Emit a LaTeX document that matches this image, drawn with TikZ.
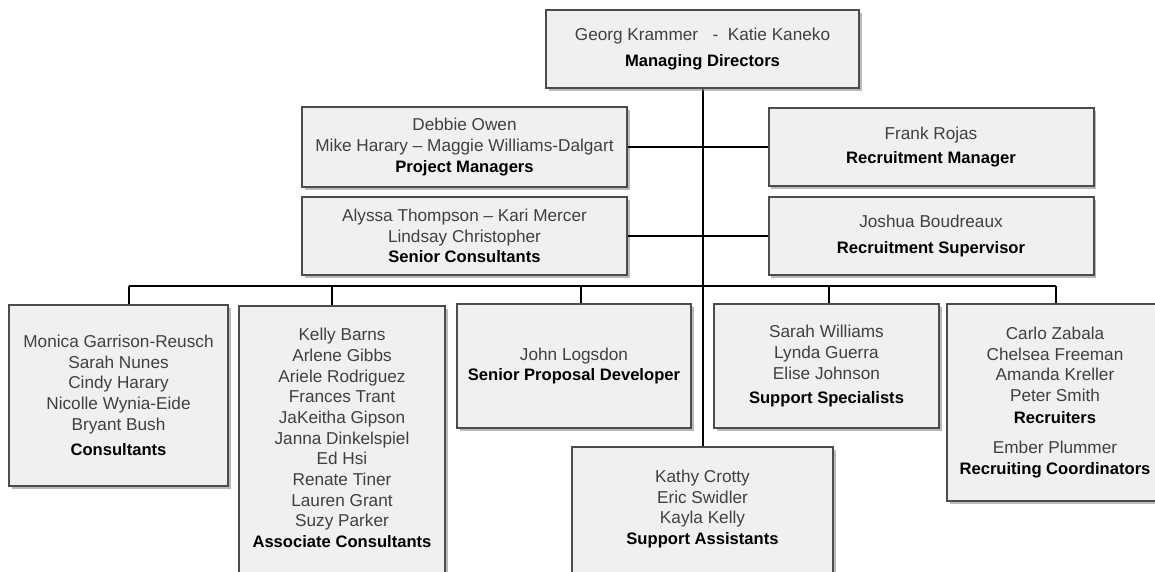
\documentclass[tikz,border=0pt]{standalone}
\usepackage{fontspec}
\setmainfont{Liberation Sans}
\usetikzlibrary{shadows}

\newcommand{\ttl}[1]{{\color{black}\fontsize{16.6}{20.7}\selectfont\bfseries #1}}

\tikzset{
  box/.style={draw=black!70, line width=2pt, fill=black!6, rectangle,
    drop shadow={shadow xshift=2.5pt, shadow yshift=-2.5pt, fill=black!45, opacity=0.6},
    align=center, inner sep=0pt, text=black!75,
    font=\fontsize{17.2}{20.7}\selectfont},
  names/.style={align=center, inner sep=0pt, text=black!75,
    font=\fontsize{17.2}{20.7}\selectfont},
  link/.style={line width=2pt, black}
}

\begin{document}
\begin{tikzpicture}[x=1pt,y=-1pt]
\useasboundingbox (0,0) rectangle (1155,571);

\draw[link] (702.5,49) -- (702.5,500);

\node[box, minimum width=313, minimum height=78] (md) at (702.5,49)
  {Georg Krammer\ \ \ -\ \ Katie Kaneko\\[5pt]\ttl{Managing Directors}};
\node[box, minimum width=325, minimum height=80] (pm) at (464.5,147)
  {Debbie Owen\\Mike Harary – Maggie Williams-Dalgart\\\ttl{Project Managers}};
\node[box, minimum width=325, minimum height=78] (sc) at (464.5,236)
  {Alyssa Thompson – Kari Mercer\\Lindsay Christopher\\\ttl{Senior Consultants}};
\node[box, minimum width=325, minimum height=78] (rm) at (931,147)
  {Frank Rojas\\[4pt]\ttl{Recruitment Manager}};
\node[box, minimum width=325, minimum height=78] (rs) at (931,236)
  {Joshua Boudreaux\\[5pt]\ttl{Recruitment Supervisor}};

\draw[link] (pm.east) -- (rm.west);
\draw[link] (sc.east) -- (rs.west);

\coordinate (dco) at (129,286);
\coordinate (dac) at (332,286);
\coordinate (djl) at (581,286);
\coordinate (dss) at (829,286);
\coordinate (dre) at (1056,286);
\draw[link] (dco) -- (dre);

\node[box, minimum width=219, minimum height=181] (co) at (118.5,395.5)
  {Monica Garrison-Reusch\\Sarah Nunes\\Cindy Harary\\Nicolle Wynia-Eide\\Bryant Bush\\[5pt]\ttl{Consultants}};
\node[box, minimum width=206, minimum height=285, anchor=north] (ac) at (342,305) {};
\node[names] (acn) at (342,438)
  {Kelly Barns\\Arlene Gibbs\\Ariele Rodriguez\\Frances Trant\\JaKeitha Gipson\\Janna Dinkelspiel\\Ed Hsi\\Renate Tiner\\Lauren Grant\\Suzy Parker\\\ttl{Associate Consultants}};
\node[box, minimum width=234, minimum height=124] (jl) at (574,366)
  {John Logsdon\\\ttl{Senior Proposal Developer}};
\node[box, minimum width=225, minimum height=124] (ss) at (826.5,366)
  {Sarah Williams\\Lynda Guerra\\Elise Johnson\\[3pt]\ttl{Support Specialists}};
\node[box, minimum width=216, minimum height=197] (re) at (1055,402.5)
  {Carlo Zabala\\Chelsea Freeman\\Amanda Kreller\\Peter Smith\\[1pt]\ttl{Recruiters}\\[10pt]Ember Plummer\\\ttl{Recruiting Coordinators}};
\node[box, minimum width=261, minimum height=140, anchor=north] (sa) at (702.5,446) {};
\node[names] (san) at (702.5,509)
  {Kathy Crotty\\Eric Swidler\\Kayla Kelly\\\ttl{Support Assistants}};

\foreach \d/\b in {dco/co, dac/ac, djl/jl, dss/ss, dre/re}
  \draw[link] (\d) -- (\d |- \b.north);

\end{tikzpicture}
\end{document}
